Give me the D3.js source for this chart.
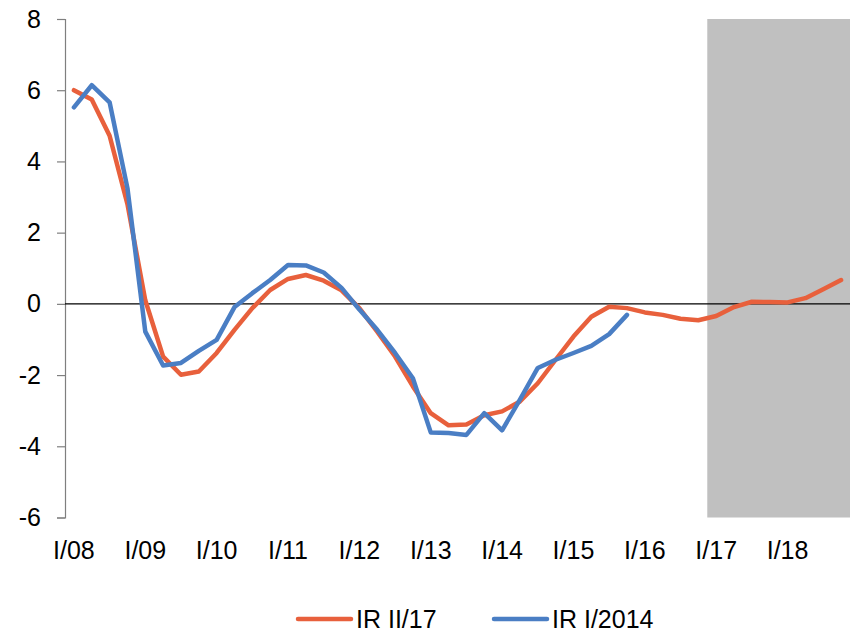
<!DOCTYPE html>
<html>
<head>
<meta charset="utf-8">
<script src="https://cdn.jsdelivr.net/npm/d3@7"></script>
<style>
  html, body { margin: 0; padding: 0; background: #fff; }
  svg { display: block; font-family: "Liberation Sans", Arial, sans-serif; }
</style>
</head>
<body>
<svg id="chart" width="850" height="632"></svg>
<script>
// Quarters I/08 .. IV/18
const years = ["08","09","10","11","12","13","14","15","16","17","18"];
const romans = ["I","II","III","IV"];
const quarters = years.flatMap(y => romans.map(r => r + "/" + y));

// IR II/17 (full range, incl. forecast)
const irII17 = [
  6.00, 5.74, 4.72, 2.80, 0.10, -1.48, -1.99, -1.90,
  -1.38, -0.73, -0.12, 0.39, 0.70, 0.81, 0.65, 0.38,
  -0.12, -0.78, -1.48, -2.32, -3.07, -3.41, -3.39, -3.13,
  -3.02, -2.74, -2.23, -1.57, -0.92, -0.36, -0.08, -0.12,
  -0.24, -0.31, -0.42, -0.46, -0.34, -0.09, 0.06, 0.05,
  0.04, 0.16, 0.41, 0.67
];

// IR I/2014 (ends IV/15)
const irI2014 = [
  5.52, 6.14, 5.66, 3.25, -0.78, -1.73, -1.66, -1.32,
  -1.01, -0.09, 0.30, 0.67, 1.09, 1.08, 0.88, 0.45,
  -0.16, -0.73, -1.38, -2.09, -3.61, -3.63, -3.68, -3.07,
  -3.55, -2.69, -1.80, -1.57, -1.38, -1.18, -0.85, -0.31
];

const yTicks = [-6, -4, -2, 0, 2, 4, 6, 8];
const forecastStart = "I/17";
const seriesNames = ["IR II/17", "IR I/2014"];
const colors = ["#E8603C", "#4A7EC4"];

const svg = d3.select("#chart");
const plotLeft = 65, plotRight = 850, plotTop = 19, plotBottom = 517.5;

const x = d3.scaleBand().domain(quarters).range([plotLeft, plotRight]).padding(0);
const y = d3.scaleLinear().domain([-6, 8]).range([plotBottom, plotTop]);
const cx = q => x(q) + x.bandwidth() / 2;

// forecast shading
svg.append("rect")
  .attr("x", x(forecastStart))
  .attr("y", y(8))
  .attr("width", plotRight - x(forecastStart))
  .attr("height", y(-6) - y(8))
  .attr("fill", "#C0C0C0");

// y axis
const yAxis = d3.axisLeft(y).tickValues(yTicks).tickSize(8).tickPadding(16)
  .tickFormat(d => d < 0 ? "-" + Math.abs(d) : d);
const gy = svg.append("g").attr("transform", `translate(${plotLeft},0)`).call(yAxis);
gy.select(".domain").attr("stroke", "#7f7f7f").attr("stroke-width", 1.2);
gy.selectAll(".tick line").attr("stroke", "#7f7f7f").attr("stroke-width", 1.2);
gy.selectAll(".tick text").attr("font-size", 25).attr("fill", "#000")
  .attr("font-family", "Liberation Sans, Arial, sans-serif");

// zero line
svg.append("line")
  .attr("x1", plotLeft).attr("x2", plotRight)
  .attr("y1", y(0)).attr("y2", y(0))
  .attr("stroke", "#000").attr("stroke-width", 1.2);

// category labels (first quarter of each year)
const xAxis = d3.axisBottom(x)
  .tickValues(quarters.filter(q => q.startsWith("I/")))
  .tickSize(0).tickPadding(0);
const gx = svg.append("g").attr("transform", `translate(0,${plotBottom})`).call(xAxis);
gx.select(".domain").remove();
gx.selectAll(".tick text").attr("font-size", 25).attr("fill", "#000")
  .attr("dy", 0).attr("y", 41)
  .attr("font-family", "Liberation Sans, Arial, sans-serif");

// series
const line = d3.line().x((d, i) => cx(quarters[i])).y(d => y(d));
[irII17, irI2014].forEach((s, k) => {
  svg.append("path")
    .datum(s)
    .attr("d", line)
    .attr("fill", "none")
    .attr("stroke", colors[k])
    .attr("stroke-width", 4.5)
    .attr("stroke-linejoin", "round")
    .attr("stroke-linecap", "round");
});

// legend
const legendItems = [{x: 298, tx: 356}, {x: 494, tx: 552}];
legendItems.forEach((it, k) => {
  svg.append("line")
    .attr("x1", it.x).attr("x2", it.x + 53)
    .attr("y1", 619).attr("y2", 619)
    .attr("stroke", colors[k]).attr("stroke-width", 4.5)
    .attr("stroke-linecap", "round");
  svg.append("text")
    .attr("x", it.tx).attr("y", 627.5)
    .attr("font-size", 25).attr("fill", "#000")
    .text(seriesNames[k]);
});
</script>
</body>
</html>
